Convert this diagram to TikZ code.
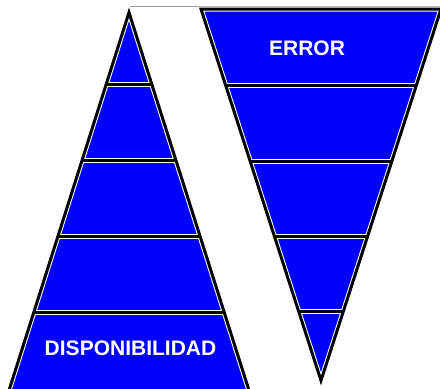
\documentclass[tikz,border=0pt]{standalone}
\usepackage{fontspec}
\setmainfont{Liberation Sans}
\usetikzlibrary{calc}
\definecolor{bandblue}{RGB}{0,0,255}
\begin{document}
\begin{tikzpicture}[x=1pt,y=-1pt,
  band/.style={fill=bandblue},
  whiteedge/.style={draw=white, line width=5pt, line join=miter},
  blackedge/.style={draw=black, line width=3pt, line join=miter},
  topline/.style={draw=black!40, line width=1pt},
  txt/.style={text=white, font=\fontsize{21}{24}\selectfont\bfseries, inner sep=0pt}]
\useasboundingbox (0,0) rectangle (440,389);
\clip (0,0) rectangle (440,389);
\fill[white] (0,0) rectangle (440,389);
% geometry
\coordinate (A) at (129,12.5);
\coordinate (BL) at (8.5,392);
\coordinate (BR) at (249.5,392);
\coordinate (TL) at (201,9);
\coordinate (TR) at (441,9);
\coordinate (P) at (321,380.5);
\coordinate (G1) at (129,6.5);
\coordinate (G2) at (441,6.5);
\foreach \f [count=\i] in {0.19,0.3905,0.591,0.7916} {
  \coordinate (L\i) at ($(A)!\f!(BL)$);
  \coordinate (R\i) at ($(A)!\f!(BR)$);
}
\foreach \f [count=\i] in {0.207,0.411,0.613,0.8145} {
  \coordinate (U\i) at ($(TL)!\f!(P)$);
  \coordinate (V\i) at ($(TR)!\f!(P)$);
}
% thin top line
\draw[topline] (G1) -- (G2);
% fills
\fill[band] (A) -- (BR) -- (BL) -- cycle;
\fill[band] (TL) -- (TR) -- (P) -- cycle;
% edges: white halo then black core
\foreach \st in {whiteedge,blackedge} {
  \draw[\st] (A) -- (BR) -- (BL) -- cycle;
  \draw[\st] (TL) -- (TR) -- (P) -- cycle;
  \foreach \i in {1,...,4} {
    \draw[\st] (L\i) -- (R\i);
    \draw[\st] (U\i) -- (V\i);
  }
}
% texts
\node[txt] (err) at (307,48.5) {ERROR};
\node[txt] (disp) at (130.5,348.5) {DISPONIBILIDAD};
\end{tikzpicture}
\end{document}
